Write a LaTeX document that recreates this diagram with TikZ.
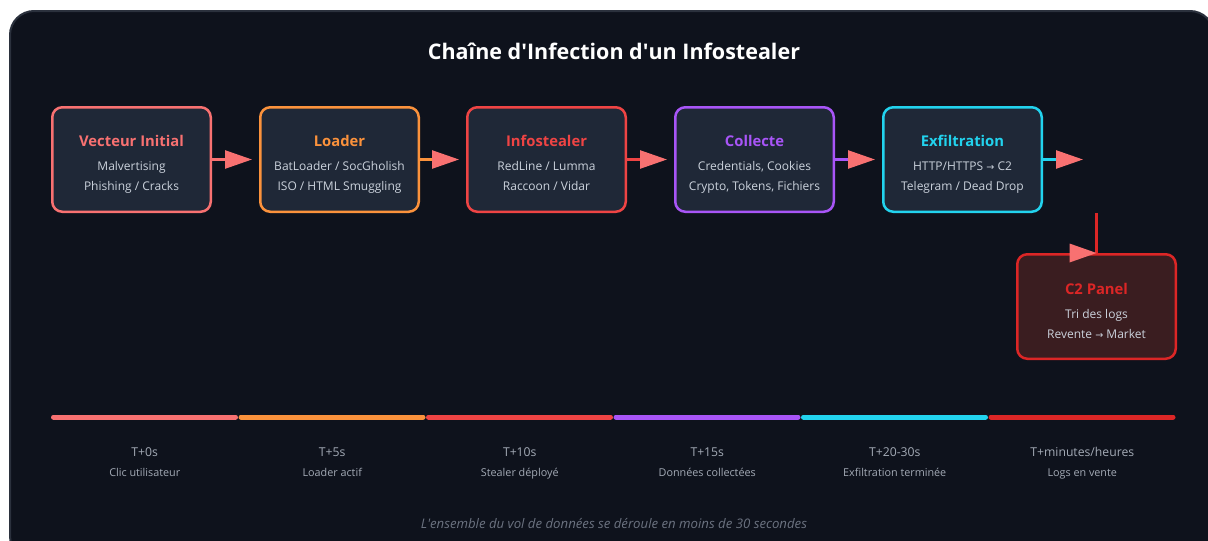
\documentclass[tikz,border=0pt]{standalone}
\usepackage{fontspec}
\setmainfont{Open Sans}
\newfontfamily\symfont{DejaVu Sans}
\newcommand\toarrow{{\symfont\scalebox{0.8}{→}}}
\newcommand\ap{\textquotesingle}
\usetikzlibrary{arrows.meta,calc}

\definecolor{panelbg}{HTML}{0E121C}
\definecolor{panelrim}{HTML}{2B313D}
\definecolor{boxfill}{HTML}{1F2837}
\definecolor{c2fill}{HTML}{3A1D20}
\definecolor{txt}{HTML}{CBD2DC}
\definecolor{dimtxt}{HTML}{A3AAB5}
\definecolor{foot}{HTML}{6B7280}
\definecolor{cvec}{HTML}{F87171}
\definecolor{cload}{HTML}{FB923C}
\definecolor{cinfo}{HTML}{EF4444}
\definecolor{ccoll}{HTML}{A855F7}
\definecolor{cexf}{HTML}{22D3EE}
\definecolor{cpanel}{HTML}{DC2626}
\definecolor{tipc}{HTML}{F87171}

\tikzset{
  stagebox/.style={draw=#1, line width=2.5pt, rounded corners=10pt, fill=boxfill,
    minimum width=158.5pt, minimum height=104.5pt, inner sep=0pt},
  stagetitle/.style={text=#1, font=\fontsize{14.8}{16}\selectfont\bfseries, inner sep=0pt,
    text height=0.72em, text depth=0.2em},
  stageline/.style={text=txt, font=\fontsize{12}{14}\selectfont, inner sep=0pt,
    text height=0.72em, text depth=0.2em},
  flow/.style={draw=#1, line width=2.5pt, -{Triangle[length=27pt,width=18pt,color=tipc]}},
  seg/.style={draw=#1, line width=5pt, line cap=round},
  timelabel/.style={text=dimtxt, font=\fontsize{12.2}{14}\selectfont, inner sep=0pt,
    text height=0.72em, text depth=0.2em},
  timesub/.style={text=dimtxt, font=\fontsize{10.8}{12}\selectfont, inner sep=0pt,
    text height=0.72em, text depth=0.2em},
}

% one stage: name, centre x, colour, heading, first line, second line
\newcommand\stagenode[6]{%
  \node[stagebox=#3] (#1) at (#2,159.5) {};
  \node[stagetitle=#3] (#1-t) at (#2,143.5) {#4};
  \node[stageline] (#1-a) at (#2,167.5) {#5};
  \node[stageline] (#1-b) at (#2,187.5) {#6};
}
% one timeline step: index, colour, time, caption
\newcommand\timestep[4]{%
  \pgfmathsetmacro\xa{51+187.5*#1+2.5}
  \pgfmathsetmacro\xb{51+187.5*(#1+1)-3}
  \pgfmathsetmacro\xm{51+187.5*(#1+0.5)}
  \coordinate (s#1a) at (\xa,417);
  \coordinate (s#1b) at (\xb,417);
  \draw[seg=#2] (s#1a) -- (s#1b);
  \node[timelabel] (tl#1) at (\xm,453.5) {#3};
  \node[timesub] (ts#1) at (\xm,473.5) {#4};
}

\begin{document}
\begin{tikzpicture}[x=1pt,y=-1pt]
\useasboundingbox (0,0) rectangle (1208,541);
\fill[white] (0,0) rectangle (1208,541);
\begin{scope}
  \clip (0,0) rectangle (1208,541);
  \draw[panelrim, line width=2pt, fill=panelbg, rounded corners=24pt] (10,11) rectangle (1214,560);
\end{scope}

% heading
\node[text=white, font=\fontsize{21.5}{24}\selectfont\bfseries, inner sep=0pt] (title) at (614,51) {Chaîne d\ap Infection d\ap un Infostealer};

% stages
\stagenode{vec}{131.5}{cvec}{Vecteur Initial}{Malvertising}{Phishing / Cracks}
\stagenode{load}{339.5}{cload}{Loader}{BatLoader / SocGholish}{ISO / HTML Smuggling}
\stagenode{info}{546.5}{cinfo}{Infostealer}{RedLine / Lumma}{Raccoon / Vidar}
\stagenode{coll}{754.5}{ccoll}{Collecte}{Credentials, Cookies}{Crypto, Tokens, Fichiers}
\stagenode{exf}{962.5}{cexf}{Exfiltration}{HTTP/HTTPS \toarrow\ C2}{Telegram / Dead Drop}

% C2 panel
\node[stagebox=cpanel, fill=c2fill] (c2) at (1096.5,306.5) {};
\node[stagetitle=cpanel] (c2-t) at (1096.5,291.5) {C2 Panel};
\node[stageline] (c2-a) at (1096.5,315.5) {Tri des logs};
\node[stageline] (c2-b) at (1096.5,335.5) {Revente \toarrow\ Market};

% connectors
\draw[flow=cvec]  (vec.east)  -- ([xshift=-7pt]load.west);
\draw[flow=cload] (load.east) -- ([xshift=-7pt]info.west);
\draw[flow=cinfo] (info.east) -- ([xshift=-7pt]coll.west);
\draw[flow=ccoll] (coll.east) -- ([xshift=-7pt]exf.west);
\coordinate (exfout) at (1083,159.5);
\draw[flow=cexf]  (exf.east)  -- (exfout);
\coordinate (c2in) at (1096.5,213);
\draw[cpanel, line width=2.5pt] (c2in) -- (c2.north);
\fill[tipc] (c2.north) -- ++(-27,-9.5) -- ++(0,19) -- cycle;

% timeline
\timestep{0}{cvec}{T+0s}{Clic utilisateur}
\timestep{1}{cload}{T+5s}{Loader actif}
\timestep{2}{cinfo}{T+10s}{Stealer déployé}
\timestep{3}{ccoll}{T+15s}{Données collectées}
\timestep{4}{cexf}{T+20-30s}{Exfiltration terminée}
\timestep{5}{cpanel}{T+minutes/heures}{Logs en vente}

\node[text=foot, font=\itshape\fontsize{13.2}{15}\selectfont, inner sep=0pt] (footer) at (614,524)
  {L\ap ensemble du vol de données se déroule en moins de 30 secondes};
\end{tikzpicture}
\end{document}
